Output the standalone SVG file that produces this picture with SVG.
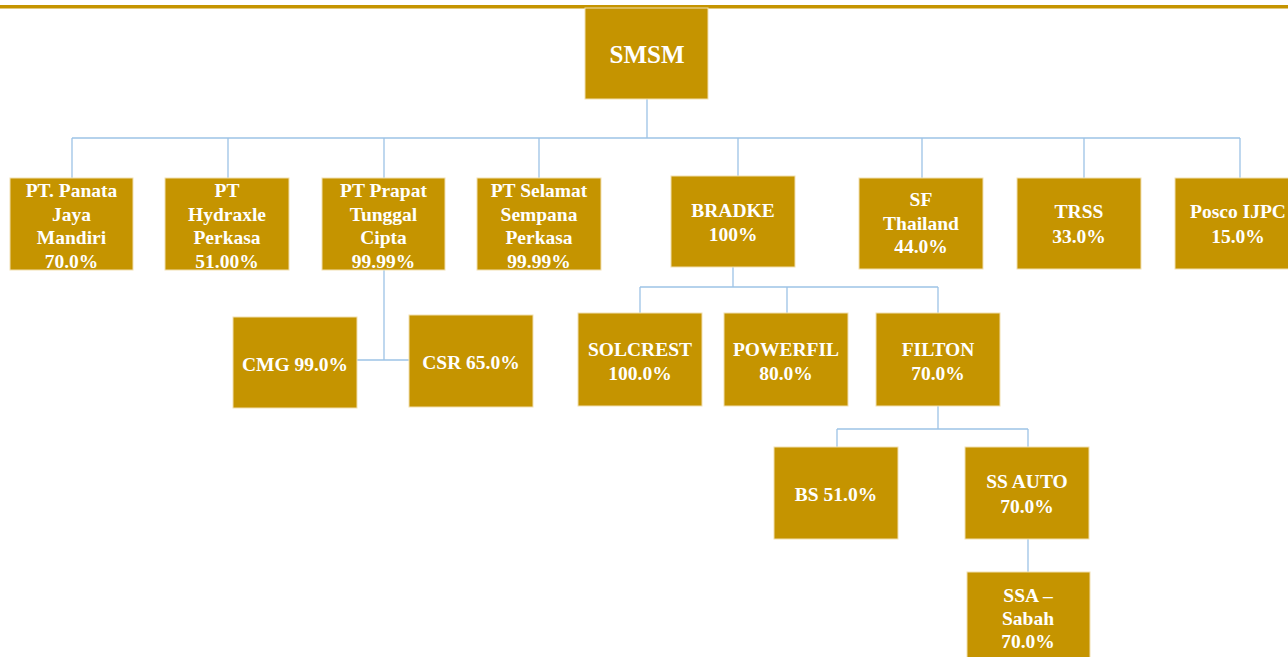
<svg xmlns="http://www.w3.org/2000/svg" width="1288" height="657" viewBox="0 0 1288 657">
<style>
.box{fill:#C59400;stroke:#F2DFB0;stroke-width:1}
.t{font-family:"Liberation Serif","Times New Roman",serif;font-weight:bold;font-size:19.5px;fill:#FFFFFF;text-anchor:middle}
.big{font-size:25px}
.c{fill:none;stroke:#9DC3E6;stroke-width:1.3}
</style>
<rect x="0" y="5" width="1288" height="3.5" fill="#C59400"/>
<g id="connectors">
<path class="c" d="M647 99V138M72 138H1240M72 138V178M228 138V178M384 138V178M539 138V178M738 138V176M922 138V178M1084 138V178M1240 138V178"/>
<path class="c" d="M384 270V360M357 360H409"/>
<path class="c" d="M733 267V287M640 287H938M640 287V313M787 287V313M938 287V313"/>
<path class="c" d="M938 406V429M837 429H1028M837 429V447M1028 429V447M1028 539V572"/>
</g>
<g id="smsm"><rect class="box" x="585" y="8" width="123" height="91"/><text class="t big" x="647" y="63">SMSM</text></g>
<g id="panata"><rect class="box" x="10" y="178" width="123" height="92"/><text class="t" x="71.5" y="197">PT. Panata</text><text class="t" x="71.5" y="220.5">Jaya</text><text class="t" x="71.5" y="244">Mandiri</text><text class="t" x="71.5" y="267.5">70.0%</text></g>
<g id="hydraxle"><rect class="box" x="165" y="178" width="124" height="92"/><text class="t" x="227" y="197">PT</text><text class="t" x="227" y="220.5">Hydraxle</text><text class="t" x="227" y="244">Perkasa</text><text class="t" x="227" y="267.5">51.00%</text></g>
<g id="prapat"><rect class="box" x="322" y="178" width="123" height="92"/><text class="t" x="383.5" y="197">PT Prapat</text><text class="t" x="383.5" y="220.5">Tunggal</text><text class="t" x="383.5" y="244">Cipta</text><text class="t" x="383.5" y="267.5">99.99%</text></g>
<g id="selamat"><rect class="box" x="477" y="178" width="124" height="92"/><text class="t" x="539" y="197">PT Selamat</text><text class="t" x="539" y="220.5">Sempana</text><text class="t" x="539" y="244">Perkasa</text><text class="t" x="539" y="267.5">99.99%</text></g>
<g id="bradke"><rect class="box" x="671" y="176" width="124" height="91"/><text class="t" x="733" y="217">BRADKE</text><text class="t" x="733" y="241">100%</text></g>
<g id="sf"><rect class="box" x="859" y="178" width="124" height="91"/><text class="t" x="921" y="206">SF</text><text class="t" x="921" y="230">Thailand</text><text class="t" x="921" y="253">44.0%</text></g>
<g id="trss"><rect class="box" x="1017" y="178" width="124" height="91"/><text class="t" x="1079" y="218">TRSS</text><text class="t" x="1079" y="243">33.0%</text></g>
<g id="posco"><rect class="box" x="1175" y="178" width="124" height="91"/><text class="t" x="1238" y="218">Posco IJPC</text><text class="t" x="1238" y="243">15.0%</text></g>
<g id="cmg"><rect class="box" x="233" y="317" width="124" height="91"/><text class="t" x="295" y="371">CMG 99.0%</text></g>
<g id="csr"><rect class="box" x="409" y="315" width="124" height="92"/><text class="t" x="471" y="369">CSR 65.0%</text></g>
<g id="solcrest"><rect class="box" x="578" y="313" width="124" height="93"/><text class="t" x="640" y="356">SOLCREST</text><text class="t" x="640" y="380">100.0%</text></g>
<g id="powerfil"><rect class="box" x="724" y="313" width="124" height="93"/><text class="t" x="786" y="356">POWERFIL</text><text class="t" x="786" y="380">80.0%</text></g>
<g id="filton"><rect class="box" x="876" y="313" width="124" height="93"/><text class="t" x="938" y="356">FILTON</text><text class="t" x="938" y="380">70.0%</text></g>
<g id="bs"><rect class="box" x="774" y="447" width="124" height="92"/><text class="t" x="836" y="501">BS 51.0%</text></g>
<g id="ssauto"><rect class="box" x="965" y="447" width="124" height="92"/><text class="t" x="1027" y="488">SS AUTO</text><text class="t" x="1027" y="513">70.0%</text></g>
<g id="ssa"><rect class="box" x="967" y="572" width="123" height="95"/><text class="t" x="1028" y="602">SSA –</text><text class="t" x="1028" y="625">Sabah</text><text class="t" x="1028" y="648">70.0%</text></g>
</svg>
